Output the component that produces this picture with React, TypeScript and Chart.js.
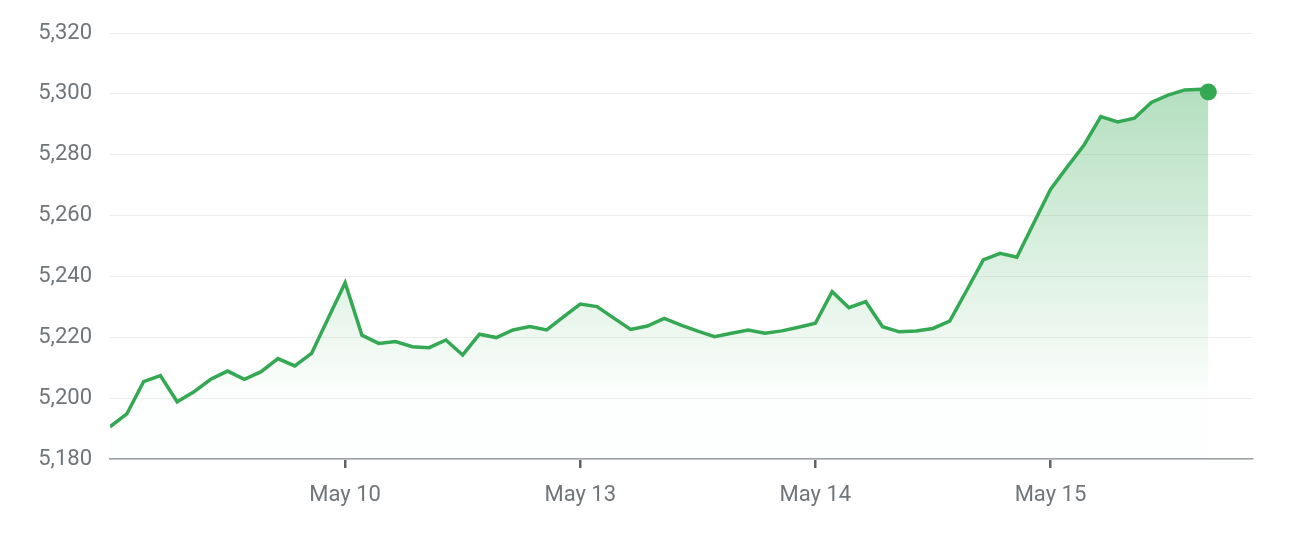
import React, { useEffect, useRef } from "react";
import { Chart, registerables } from "chart.js";

Chart.register(...registerables);

// trading-slot index (30-min bars, 14 per session) and index value
const slots = [
  0, 1, 2, 3, 4, 5, 6, 7, 8, 9, 10, 11, 12, 13,
  14, 15, 16, 17, 18, 19, 20, 21, 22, 23, 24, 25, 26, 27,
  28, 29, 30, 31, 32, 33, 34, 35, 36, 37, 38, 39, 40, 41,
  42, 43, 44, 45, 46, 47, 48, 49, 50, 51, 52, 53, 54, 55,
  56, 57, 58, 59, 60, 61, 62, 63, 64, 65, 65.4,
];
const values = [
  5190.6, 5194.8, 5205.4, 5207.4, 5198.8, 5202.1, 5206.2, 5208.9, 5206.2, 5208.7, 5213.0, 5210.6, 5214.7, 5226.3,
  5237.9, 5220.7, 5218.0, 5218.6, 5216.9, 5216.6, 5219.1, 5214.2, 5221.0, 5219.9, 5222.4, 5223.5, 5222.4, 5226.7,
  5230.9, 5230.1, 5226.3, 5222.6, 5223.7, 5226.2, 5224.0, 5222.0, 5220.2, 5221.3, 5222.4, 5221.3, 5222.1, 5223.3,
  5224.6, 5235.0, 5229.7, 5231.7, 5223.5, 5221.8, 5222.1, 5222.9, 5225.3, 5235.3, 5245.4, 5247.6, 5246.3, 5257.5,
  5268.6, 5276.0, 5283.2, 5292.5, 5290.8, 5292.0, 5297.2, 5299.6, 5301.3, 5301.5, 5300.6,
];
const tickSlots = [14, 28, 42, 56];
const tickLabels = ["May 10", "May 13", "May 14", "May 15"];
const yMin = 5180;
const yMax = 5320;
const yStep = 20;
const xMax = 68;

const GREEN = "#34a853";

export default function App() {
  const ref = useRef<HTMLCanvasElement | null>(null);

  useEffect(() => {
    if (!ref.current) return;
    const data = slots.map((x, i) => ({ x, y: values[i] }));
    const last = data.length - 1;
    const chart = new Chart(ref.current, {
      type: "line",
      data: {
        datasets: [
          {
            data,
            borderColor: GREEN,
            borderWidth: 3.5,
            tension: 0,
            pointRadius: data.map((_, i) => (i === last ? 8.5 : 0)),
            pointBackgroundColor: GREEN,
            pointBorderWidth: 0,
            fill: "start",
            backgroundColor: (ctx: any) => {
              const ca = ctx.chart.chartArea;
              if (!ca) return "rgba(52,168,83,0.2)";
              const g = ctx.chart.ctx.createLinearGradient(0, ca.top + 55, 0, ca.bottom - 60);
              g.addColorStop(0, "rgba(52,168,83,0.37)");
              g.addColorStop(1, "rgba(52,168,83,0.01)");
              return g;
            },
          },
        ],
      },
      options: {
        animation: false,
        responsive: true,
        maintainAspectRatio: false,
        layout: { padding: { top: 33, right: 40, left: 0, bottom: 0 } },
        plugins: { legend: { display: false }, tooltip: { enabled: false } },
        scales: {
          x: {
            type: "linear",
            min: 0,
            max: xMax,
            afterBuildTicks: (scale: any) => {
              scale.ticks = tickSlots.map((v) => ({ value: v }));
            },
            afterFit: (scale: any) => {
              scale.height = 83;
            },
            ticks: {
              autoSkip: false,
              maxRotation: 0,
              padding: 14,
              color: "#70757a",
              font: { family: "Roboto", size: 22 },
              callback: (v: any) => {
                const k = tickSlots.indexOf(Number(v));
                return k >= 0 ? tickLabels[k] : "";
              },
            },
            grid: {
              drawOnChartArea: false,
              drawTicks: true,
              tickLength: 9,
              tickColor: "#5f6368",
              lineWidth: 2.5,
            },
            border: { display: true, color: "#9aa0a6", width: 1.5 },
          },
          y: {
            min: yMin,
            max: yMax,
            afterFit: (scale: any) => {
              scale.width = 110;
            },
            ticks: {
              stepSize: yStep,
              padding: 18,
              color: "#70757a",
              font: { family: "Roboto", size: 22 },
              callback: (v: any) => Number(v).toLocaleString("en-US"),
            },
            grid: { color: "#eeeeee", lineWidth: 1, drawTicks: false },
            border: { display: false },
          },
        },
      },
    });
    return () => chart.destroy();
  }, []);

  return (
    <div style={{ position: "fixed", left: 0, top: 0, width: 1292, height: 542, background: "#fff" }}>
      <canvas ref={ref} />
    </div>
  );
}
